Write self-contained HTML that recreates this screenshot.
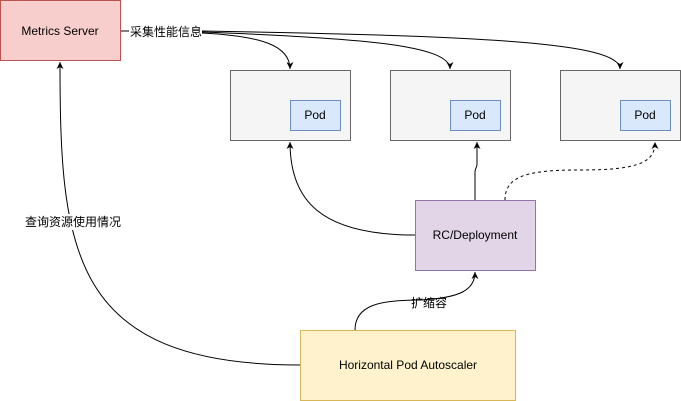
<!DOCTYPE html>
<html><head><meta charset="utf-8"><style>
body{margin:0;background:#fff;}
svg{display:block;font-family:"Liberation Sans","Noto Sans CJK SC",sans-serif;}
</style></head><body>
<svg width="681" height="401" viewBox="0 0 681 401" xmlns="http://www.w3.org/2000/svg">
<defs><marker id="a" markerWidth="8" markerHeight="8" refX="7" refY="4" orient="auto" markerUnits="userSpaceOnUse"><path d="M0,0.5 L7,4 L0,7.5 L2,4 Z" fill="#000"/></marker></defs>
<rect x="0.5" y="0.5" width="120" height="60" fill="#f8cecc" stroke="#b85450"/>
<text x="60" y="35" font-size="12" text-anchor="middle">Metrics Server</text>
<rect x="230.5" y="70.5" width="120" height="70" fill="#f5f5f5" stroke="#666"/>
<rect x="290.5" y="100.5" width="50" height="30" fill="#dae8fc" stroke="#6c8ebf"/>
<text x="315" y="119" font-size="12" text-anchor="middle">Pod</text>
<rect x="390.5" y="70.5" width="120" height="70" fill="#f5f5f5" stroke="#666"/>
<rect x="450.5" y="100.5" width="50" height="30" fill="#dae8fc" stroke="#6c8ebf"/>
<text x="475" y="119" font-size="12" text-anchor="middle">Pod</text>
<rect x="560.5" y="70.5" width="120" height="70" fill="#f5f5f5" stroke="#666"/>
<rect x="620.5" y="100.5" width="50" height="30" fill="#dae8fc" stroke="#6c8ebf"/>
<text x="645" y="119" font-size="12" text-anchor="middle">Pod</text>
<rect x="415.5" y="200.5" width="120" height="70" fill="#e1d5e7" stroke="#9673a6"/>
<text x="475" y="239" font-size="12" text-anchor="middle">RC/Deployment</text>
<rect x="300.5" y="330.5" width="215" height="70" fill="#fff2cc" stroke="#d6b656"/>
<text x="408" y="369" font-size="12" text-anchor="middle">Horizontal Pod Autoscaler</text>
<g fill="none" stroke="#000" stroke-width="1">
<path d="M121,31 L129,31"/>
<path d="M202,33 C260,36 290,45 290,69" marker-end="url(#a)"/>
<path d="M202,32 C360,38 450,45 450,69" marker-end="url(#a)"/>
<path d="M202,31 C480,36 620,42 620,69" marker-end="url(#a)"/>
<path d="M300,365 C70,365 60,250 60,62" marker-end="url(#a)"/>
<path d="M415,235 C320,235 290,200 290,142" marker-end="url(#a)"/>
<path d="M475,200 L475,172 C475,168 477,168 477,164 L477,142" marker-end="url(#a)"/>
<path d="M505,200 C505,175 530,170 580,170 C640,170 655,162 655,142" stroke-dasharray="3,3" marker-end="url(#a)"/>
<path d="M355,330 C355,305 380,300 420,300 C460,298 475,290 475,272" marker-end="url(#a)"/>
</g>
<text x="130" y="36" font-size="12">采集性能信息</text>
<rect x="24" y="214" width="98" height="16" fill="#fff"/>
<text x="25" y="226" font-size="12">查询资源使用情况</text>
<text x="411" y="307" font-size="12">扩缩容</text>
</svg>
</body></html>
